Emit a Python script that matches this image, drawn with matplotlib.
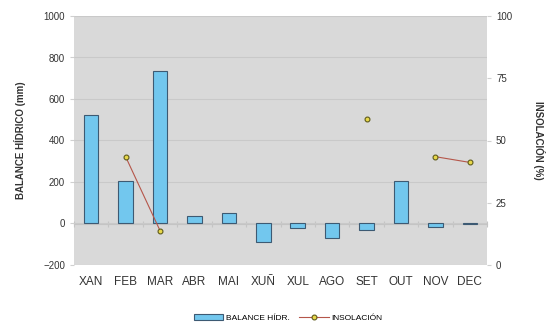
import numpy as np
import matplotlib.pyplot as plt

plt.rcParams['font.family'] = ['Liberation Sans', 'DejaVu Sans']

# Monthly values
months = ['XAN', 'FEB', 'MAR', 'ABR', 'MAI', 'XUÑ', 'XUL', 'AGO', 'SET', 'OUT', 'NOV', 'DEC']
balance = [523, 205, 735, 38, 52, -88, -20, -68, -30, 205, -18, -4]
insolacion = [np.nan, 43.5, 13.8, np.nan, np.nan, np.nan, np.nan, np.nan, 58.6, np.nan, 43.5, 41.2]

x = np.arange(len(months))

fig = plt.figure(figsize=(5.52, 3.27), dpi=100)
ax = fig.add_axes([74 / 552, 1 - 265 / 327, 413 / 552, 249 / 327])
ax.set_facecolor('#d9d9d9')
for s in ax.spines.values():
    s.set_visible(False)

ax.set_ylim(-200, 1000)
ax.set_xlim(-0.5, len(months) - 0.5)
ax.set_yticks(range(-200, 1001, 200))
ax.yaxis.grid(True, color='#c9c9c9', linewidth=0.8)
ax.set_axisbelow(True)

bars = ax.bar(x, balance, width=0.42, color='#72c7ee', edgecolor='#3d5a73',
              linewidth=0.8, label='BALANCE HÍDR.', zorder=3)
ax.set_xticks(x)
ax.set_xticklabels(months, fontsize=8.5, color='#333333')
ax.tick_params(axis='x', length=0, pad=8)
ax.tick_params(axis='y', labelsize=7, colors='#333333', length=3, color='#d0d0d0')
ax.set_ylabel('BALANCE HÍDRICO (mm)', fontsize=7, fontweight='bold', color='#333333', labelpad=12)

# category axis crossing at zero
zero = ax.secondary_xaxis(1 / 6)
zero.set_xticks(np.arange(-0.5, len(months), 1.0))
zero.set_xticklabels([])
zero.tick_params(length=5, direction='inout', color='#c4c4c4')
zero.spines['bottom'].set_color('#c4c4c4')

ax2 = ax.twinx()
for s in ax2.spines.values():
    s.set_visible(False)
ax2.set_ylim(0, 100)
ax2.set_yticks([0, 25, 50, 75, 100])
ax2.tick_params(axis='y', labelsize=7, colors='#333333', length=3, color='#d0d0d0')
line, = ax2.plot(x, insolacion, color='#b5564a', linewidth=0.8, marker='o', markersize=3.5,
                 markerfacecolor='#e8d84a', markeredgecolor='#5e5a1a', markeredgewidth=0.8,
                 label='INSOLACIÓN', zorder=4)
ax2.set_ylabel('INSOLACIÓN (%)', fontsize=7, fontweight='bold', color='#333333',
               rotation=270, labelpad=24)

fig.legend([bars, line], ['BALANCE HÍDR.', 'INSOLACIÓN'], loc='center',
           bbox_to_anchor=(288 / 552, 1 - 318 / 327), ncol=2, frameon=False,
           fontsize=6, handlelength=3.5, columnspacing=1.2, handletextpad=0.3)

plt.savefig('out.png', dpi=100)
